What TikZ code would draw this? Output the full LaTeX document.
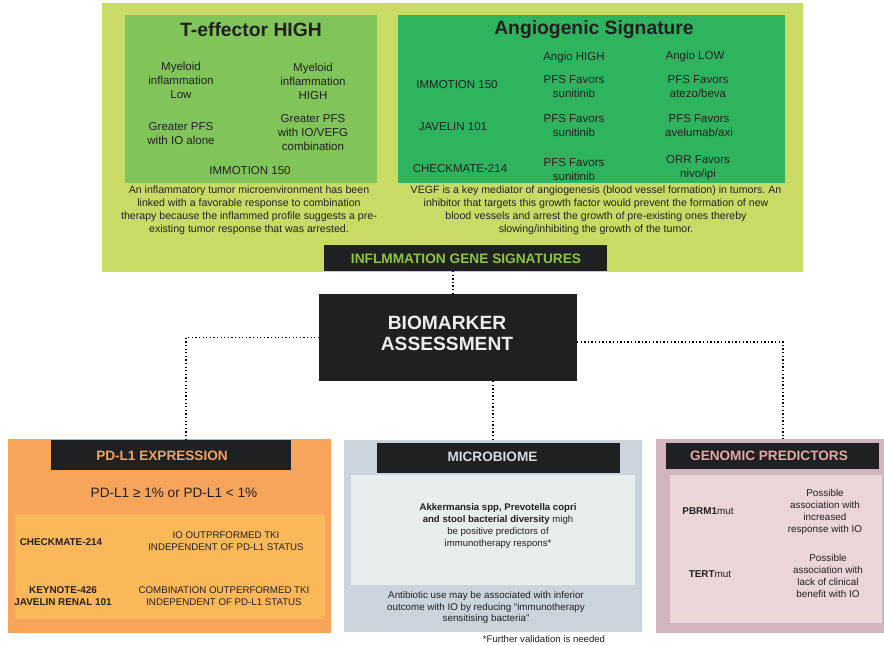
\documentclass[tikz,border=0pt]{standalone}
\usepackage{fontspec}
\setmainfont{Liberation Sans}
\frenchspacing
\usetikzlibrary{fit}
\definecolor{outergreen}{HTML}{C9DB64}
\definecolor{teffc}{HTML}{80C45A}
\definecolor{angioc}{HTML}{2EB35E}
\definecolor{darkbox}{HTML}{1F2022}
\definecolor{bannertxt}{HTML}{8DC63F}
\definecolor{txtc}{HTML}{231F20}
\definecolor{pdlout}{HTML}{F6A55B}
\definecolor{pdlin}{HTML}{FBB858}
\definecolor{pdlhead}{HTML}{F4A261}
\definecolor{micout}{HTML}{C9D4DC}
\definecolor{micin}{HTML}{E8EDF0}
\definecolor{michead}{HTML}{D5DCE2}
\definecolor{genout}{HTML}{D1B4BD}
\definecolor{genin}{HTML}{EAD6D6}
\definecolor{genhead}{HTML}{E8A7A5}
\tikzset{
  region/.style={inner sep=0pt, outer sep=0pt, draw=none},
  txt/.style={align=center, inner sep=0pt, text=txtc, font=\fontsize{11.5}{14}\selectfont},
  captxt/.style={align=center, inner sep=0pt, text=txtc, font=\fontsize{10.6}{13}\selectfont},
  small/.style={align=center, inner sep=0pt, text=txtc, font=\fontsize{9.7}{11.7}\selectfont},
  smallb/.style={align=center, inner sep=0pt, text=txtc, font=\fontsize{9.9}{11.7}\bfseries\selectfont},
  titletxt/.style={inner sep=0pt, text=txtc, font=\fontsize{19.3}{22}\bfseries\selectfont},
  head/.style={inner sep=0pt, font=\fontsize{13.6}{15}\bfseries\selectfont},
  conn/.style={line width=1.3pt, dash pattern=on 1.3pt off 2.3pt, black}
}
\begin{document}
\begin{tikzpicture}[x=1pt,y=-1pt]
\useasboundingbox (0,0) rectangle (884,645);
% ---------- top region ----------
\node[region, fill=outergreen, fit={(102,3) (803,272)}] (top) {};
\node[region, fill=teffc, fit={(125,15) (377,183)}] (teff) {};
\node[region, fill=angioc, fit={(398,15) (785,183)}] (angio) {};
\node[titletxt] (tefft) at (251,30) {T-effector HIGH};
\node[titletxt] (angiot) at (594,30) {Angiogenic Signature};
\node[txt] (t1) at (181,80) {Myeloid\\inflammation\\Low};
\node[txt] (t2) at (313,81) {Myeloid\\inflammation\\HIGH};
\node[txt] (t3) at (181,134) {Greater PFS\\with IO alone};
\node[txt] (t4) at (313,133) {Greater PFS\\with IO/VEFG\\combination};
\node[txt] (t5) at (250,171) {IMMOTION 150};
\node[captxt] (tcap) at (249,210.5) {An inflammatory tumor microenvironment has been\\linked with a favorable response to combination\\therapy because the inflammed profile suggests a pre-\\existing tumor response that was arrested.};
\node[txt] (ah) at (574,58) {Angio HIGH};
\node[txt] (al) at (695,57) {Angio LOW};
\node[txt] (a1) at (457,85) {IMMOTION 150};
\node[txt] (a2) at (453,127) {JAVELIN 101};
\node[txt] (a3) at (460,169) {CHECKMATE-214};
\node[txt] (a11) at (574,87) {PFS Favors\\sunitinib};
\node[txt] (a21) at (574,126) {PFS Favors\\sunitinib};
\node[txt] (a31) at (574,170) {PFS Favors\\sunitinib};
\node[txt] (a12) at (698,87) {PFS Favors\\atezo/beva};
\node[txt] (a22) at (699,126) {PFS Favors\\avelumab/axi};
\node[txt] (a32) at (698,168) {ORR Favors\\nivo/ipi};
\node[captxt] (acap) at (596,210.5) {VEGF is a key mediator of angiogenesis (blood vessel formation) in tumors. An\\inhibitor that targets this growth factor would prevent the formation of new\\blood vessels and arrest the growth of pre-existing ones thereby\\slowing/inhibiting the growth of the tumor.};
\node[region, fill=darkbox, fit={(324,245) (607,271)}] (banner) {};
\node[head, text=bannertxt, font=\fontsize{13.7}{15}\bfseries\selectfont] (bannert) at (466,259) {INFLMMATION GENE SIGNATURES};
% ---------- biomarker ----------
\node[region, fill=darkbox, fit={(319,294) (577,381)}] (bio) {};
\node[align=center, inner sep=0pt, text=white!93!black, font=\fontsize{19.2}{21}\bfseries\selectfont] (biot) at (447,333) {BIOMARKER\\ASSESSMENT};
% ---------- PD-L1 ----------
\node[region, fill=pdlout, fit={(8,439) (331,633)}] (pdl) {};
\node[region, fill=darkbox, fit={(51,440) (291,470)}] (pdlh) {};
\node[head, text=pdlhead] (pdlht) at (162,456) {PD-L1 EXPRESSION};
\node[inner sep=0pt, text=txtc, font=\fontsize{13.6}{15}\selectfont] (pdlsub) at (174,493) {PD-L1 ≥ 1\% or PD-L1 < 1\%};
\node[region, fill=pdlin, fit={(15,514) (325,619)}] (pdlin) {};
\node[smallb] (p1) at (61,542) {CHECKMATE-214};
\node[small] (p1r) at (226,541.5) {IO OUTPRFORMED TKI\\INDEPENDENT OF PD-L1 STATUS};
\node[smallb] (p2) at (63,596) {KEYNOTE-426\\JAVELIN RENAL 101};
\node[small] (p2r) at (224,596) {COMBINATION OUTPERFORMED TKI\\INDEPENDENT OF PD-L1 STATUS};
% ---------- microbiome ----------
\node[region, fill=micout, fit={(344,440) (642,632)}] (mic) {};
\node[region, fill=darkbox, fit={(377,443) (620,473)}] (mich) {};
\node[head, text=michead] (micht) at (492.5,457) {MICROBIOME};
\node[region, fill=micin, fit={(351,475) (635,585)}] (micin) {};
\node[small, font=\fontsize{9.6}{12}\selectfont] (m1) at (498,526) {\textbf{Akkermansia spp, Prevotella copri}\\\textbf{and stool bacterial diversity} migh\\be positive predictors of\\immunotherapy respons*};
\node[small, font=\fontsize{9.8}{11.7}\selectfont] (m2) at (486,607.5) {Antibiotic use may be associated with inferior\\outcome with IO by reducing “immunotherapy\\sensitising bacteria”};
\node[small, font=\fontsize{9.6}{10}\selectfont] (m3) at (544,639) {*Further validation is needed};
% ---------- genomic ----------
\node[region, fill=genout, fit={(656,439) (884,633)}] (gen) {};
\node[region, fill=darkbox, fit={(666,443) (879,469)}] (genh) {};
\node[head, text=genhead] (genht) at (769,456) {GENOMIC PREDICTORS};
\node[region, fill=genin, fit={(670,475) (882,623)}] (genin) {};
\node[small, font=\fontsize{9.9}{12}\selectfont] (g1) at (708,511) {\textbf{PBRM1}mut};
\node[small, font=\fontsize{9.9}{12}\selectfont] (g1r) at (825,512) {Possible\\association with\\increased\\response with IO};
\node[small, font=\fontsize{9.9}{12}\selectfont] (g2) at (710,574) {\textbf{TERT}mut};
\node[small, font=\fontsize{9.9}{12}\selectfont] (g2r) at (828,575.5) {Possible\\association with\\lack of clinical\\benefit with IO};
% ---------- connectors ----------
\draw[conn] ([xshift=5pt]bio.north |- banner.south) -- ([xshift=5pt]bio.north);
\draw[conn] (bio.west) -| ([xshift=178pt]pdl.north west);
\draw[conn] ([yshift=-4.5pt]bio.east) -| ([xshift=127pt]gen.north west);
\draw[conn] (mic.north |- bio.south) -- (mic.north);
\end{tikzpicture}
\end{document}
